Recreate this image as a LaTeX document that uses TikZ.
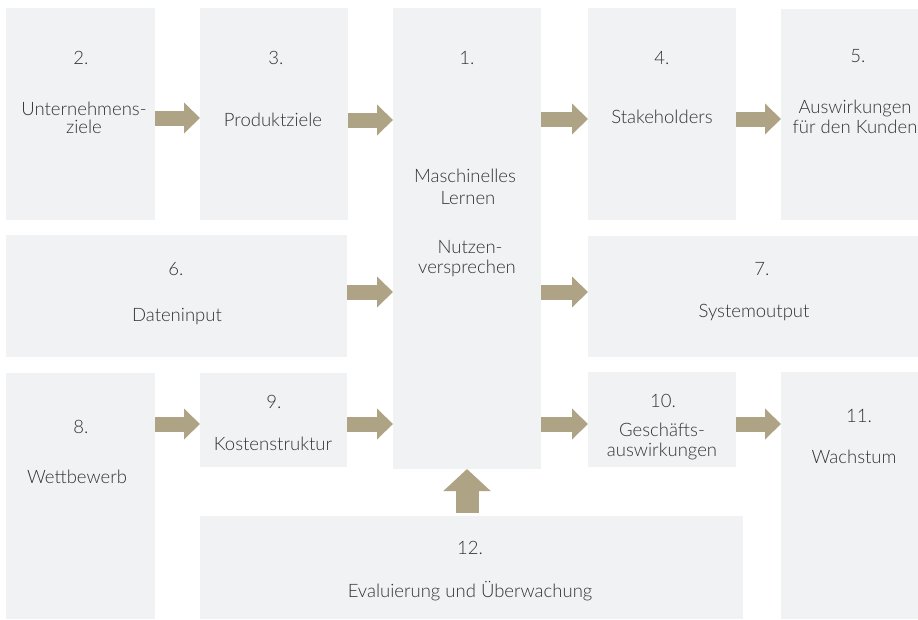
\documentclass[tikz,border=0pt]{standalone}
\usepackage{fontspec}
\setmainfont{Lato}[UprightFont={* Light}]
\usetikzlibrary{arrows.meta,fit}
\definecolor{boxgray}{HTML}{F1F2F4}
\definecolor{arrowtan}{HTML}{AFA386}
\definecolor{txt}{HTML}{333333}
\begin{document}
\begin{tikzpicture}[x=1pt,y=-1pt,
  box/.style={fill=boxgray, draw=none, inner sep=0pt, outer sep=0pt},
  lbl/.style={text=txt, font=\fontsize{18.5}{21}\selectfont, anchor=base, inner sep=0pt},
  harrow/.style={draw=arrowtan, line width=15pt, -{Triangle[length=16pt,width=30pt]}},
  varrow/.style={draw=arrowtan, line width=23pt, -{Triangle[length=22pt,width=46pt]}}]
\useasboundingbox (0,0) rectangle (918,619);
% boxes
\node[box, fit={(6,8)(155,220)}] (b2) {};
\node[box, fit={(200,8)(348,220)}] (b3) {};
\node[box, fit={(393,8)(541,469)}] (b1) {};
\node[box, fit={(588,8)(736,220)}] (b4) {};
\node[box, fit={(781,9)(918,220)}] (b5) {};
\node[box, fit={(6,235)(347,357)}] (b6) {};
\node[box, fit={(588,236)(918,357)}] (b7) {};
\node[box, fit={(6,373)(155,619)}] (b8) {};
\node[box, fit={(200,373)(347,467)}] (b9) {};
\node[box, fit={(588,372)(736,467)}] (b10) {};
\node[box, fit={(781,372)(918,619)}] (b11) {};
\node[box, fit={(200,516)(743,619)}] (b12) {};
% labels
\node[lbl] (t2n) at (81,64) {2.};
\node[lbl] (t2a) at (84,115) {Unternehmens-};
\node[lbl] (t2b) at (84,133) {ziele};
\node[lbl] (t3n) at (276,64) {3.};
\node[lbl] (t3a) at (273,126) {Produktziele};
\node[lbl] (t1n) at (467,64) {1.};
\node[lbl] (t1a) at (465,182) {Maschinelles};
\node[lbl] (t1b) at (468,204) {Lernen};
\node[lbl] (t1c) at (470,253) {Nutzen-};
\node[lbl] (t1d) at (467,273) {versprechen};
\node[lbl] (t4n) at (662,64) {4.};
\node[lbl] (t4a) at (662,123) {Stakeholders};
\node[lbl] (t5n) at (858,62) {5.};
\node[lbl] (t5a) at (855,113) {Auswirkungen};
\node[lbl] (t5b) at (855,133) {für den Kunden};
\node[lbl] (t6n) at (176,275) {6.};
\node[lbl] (t6a) at (177,321) {Dateninput};
\node[lbl] (t7n) at (762,275) {7.};
\node[lbl] (t7a) at (754,317) {Systemoutput};
\node[lbl] (t8n) at (81,433) {8.};
\node[lbl] (t8a) at (77,483) {Wettbewerb};
\node[lbl] (t9n) at (274,408) {9.};
\node[lbl] (t9a) at (273,450) {Kostenstruktur};
\node[lbl] (t10n) at (663,407) {10.};
\node[lbl] (t10a) at (662,436) {Geschäfts-};
\node[lbl] (t10b) at (662,456) {auswirkungen};
\node[lbl] (t11n) at (859,422) {11.};
\node[lbl] (t11a) at (854,463) {Wachstum};
\node[lbl] (t12n) at (470,554) {12.};
\node[lbl] (t12a) at (470,597) {Evaluierung und Überwachung};
% arrow rows
\coordinate (ra) at (0,118);
\coordinate (rb) at (0,120);
\coordinate (rc) at (0,119);
\coordinate (rd) at (0,292);
\coordinate (re) at (0,424);
\draw[harrow] (b2.east |- ra) -- (b3.west |- ra);
\draw[harrow] (b3.east |- rb) -- (b1.west |- rb);
\draw[harrow] (b1.east |- rc) -- (b4.west |- rc);
\draw[harrow] (b4.east |- rc) -- (b5.west |- rc);
\draw[harrow] (b6.east |- rd) -- (b1.west |- rd);
\draw[harrow] (b1.east |- rd) -- (b7.west |- rd);
\draw[harrow] (b8.east |- re) -- (b9.west |- re);
\draw[harrow] (b9.east |- re) -- (b1.west |- re);
\draw[harrow] (b1.east |- re) -- (b10.west |- re);
\draw[harrow] (b10.east |- re) -- (b11.west |- re);
\draw[varrow, shorten <=3pt] (b12.north -| b1.south) -- (b1.south);
\end{tikzpicture}
\end{document}
